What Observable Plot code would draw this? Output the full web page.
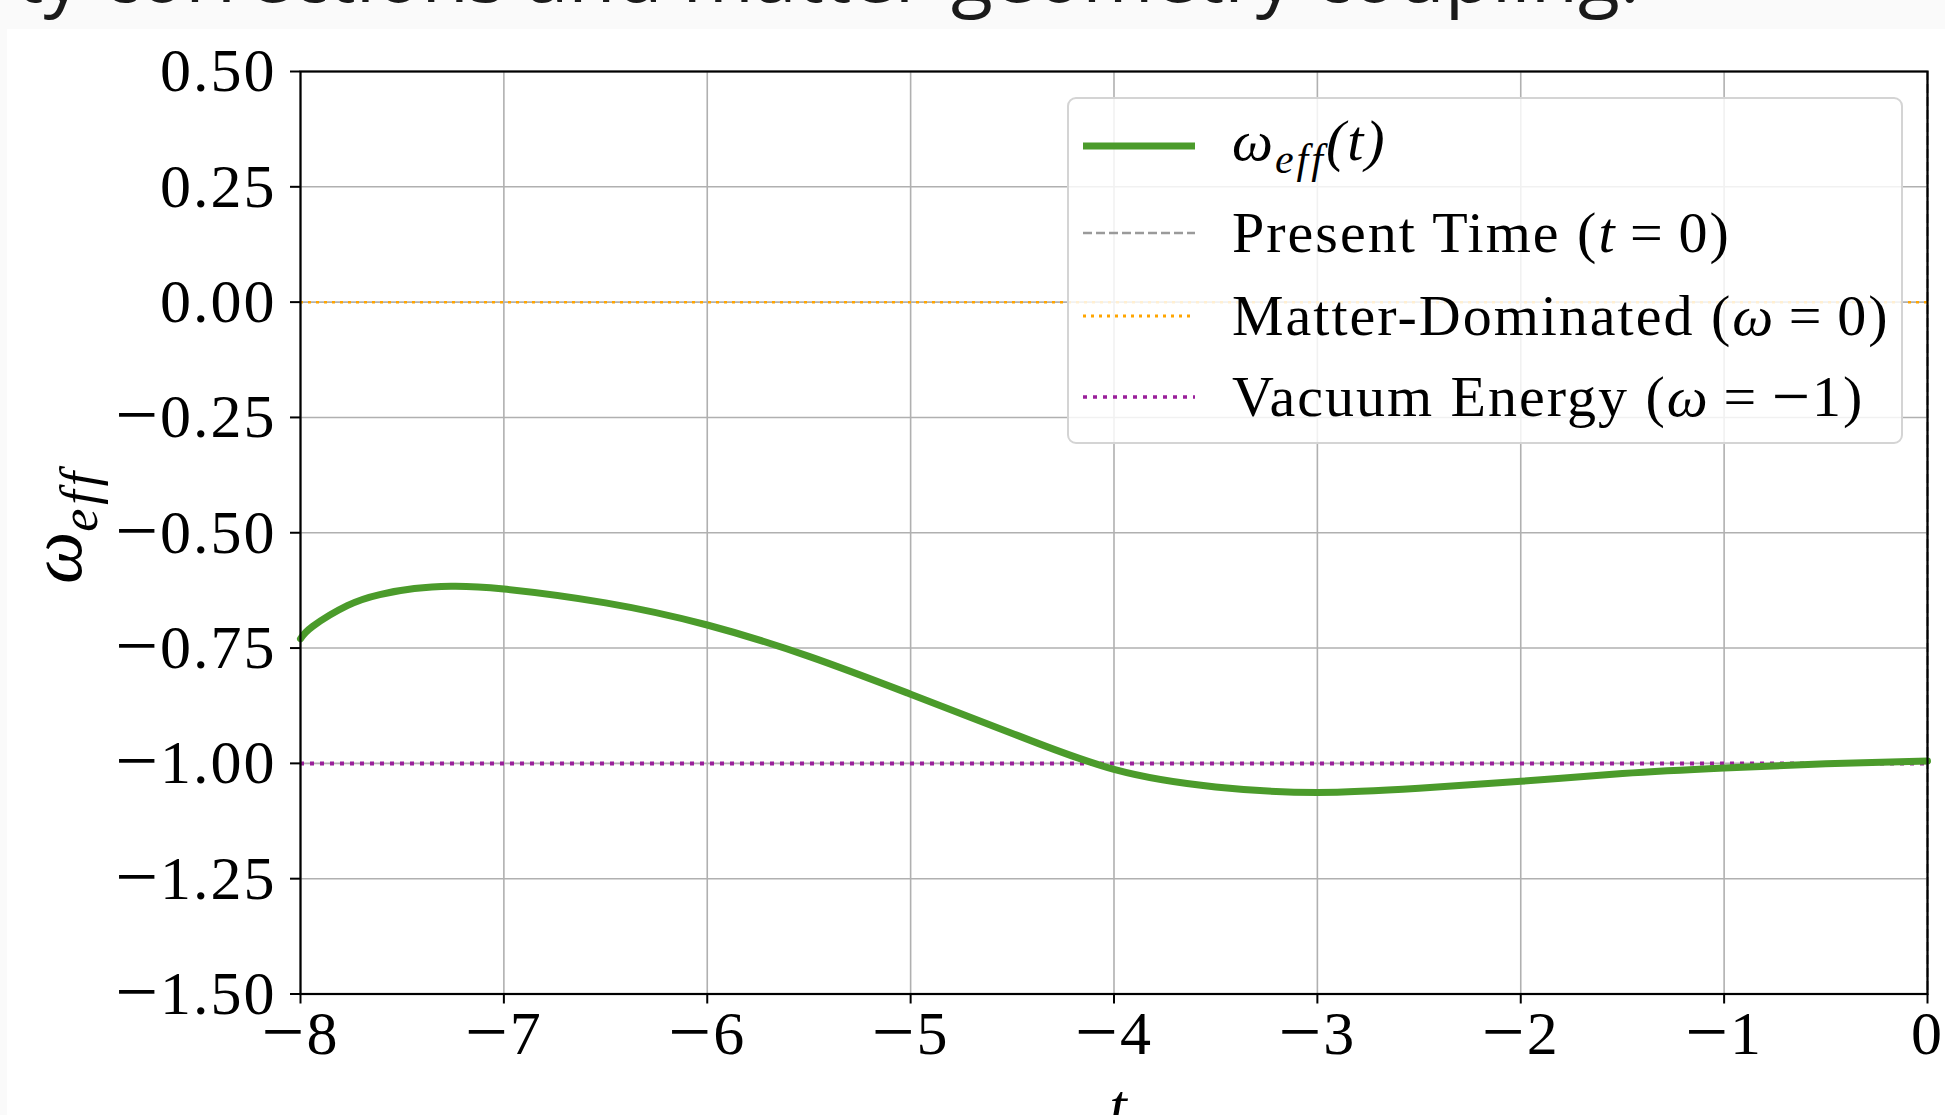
<!DOCTYPE html>
<html>
<head>
<meta charset="utf-8">
<script src="https://cdn.jsdelivr.net/npm/d3@7"></script>
<script src="https://cdn.jsdelivr.net/npm/@observablehq/plot@0.6"></script>
<style>
  html, body { margin: 0; padding: 0; width: 1945px; height: 1115px; overflow: hidden; background: #fafafa; position: relative; }
  #title { position: absolute; right: 305px; top: -66px; white-space: nowrap; font-family: "Open Sans", sans-serif; font-size: 77px; line-height: 1; color: #1a1a1a; }
  #fig { position: absolute; left: 7px; top: 29px; width: 2000px; height: 1090px; background: white; }
  #chart { position: absolute; left: 0; top: 0; }
  .serif { font-family: "Liberation Serif", serif; color: black; font-variant-ligatures: none; }
  .mm { font-style: normal; font-size: 68px; position: relative; top: 3px; line-height: 0; }
  #ylab { position: absolute; left: 55px; top: 497px; transform: translate(-50%, -50%) rotate(-90deg); font-size: 74px; font-style: italic; white-space: nowrap; line-height: 1; }
  #ylab sub { font-size: 52px; vertical-align: -16px; letter-spacing: 4px; }
  #xlab { position: absolute; left: 1111px; top: 1047px; transform: translateX(-50%); font-size: 63px; font-style: italic; line-height: 1; }
  #legend { position: absolute; left: 1067px; top: 97px; width: 836px; height: 347px; box-sizing: border-box; border: 2px solid #d4d4d4; border-radius: 9px; background: rgba(255,255,255,0.82); padding-top: 2px; }
  .row { display: flex; align-items: center; height: 81px; }
  .row:first-child { height: 90px; }
  .row:nth-child(2) { height: 84px; }
  .row svg { margin-left: 14px; width: 112px; height: 20px; flex: none; }
  .row span.lab { margin-left: 37px; font-size: 58px; letter-spacing: 2px; white-space: nowrap; line-height: 1; }
  .row span sub { font-size: 42px; vertical-align: -13px; letter-spacing: 3px; }
</style>
</head>
<body>
<div id="title">ty corrections and matter-geometry coupling.</div>
<div id="fig">
  <div id="chart"></div>
  <div id="ylab" class="serif">ω<sub>eff</sub></div>
  <div id="xlab" class="serif">t</div>
</div>
<div id="legend" class="serif"></div>
<script>
// ---- data ----
const tValues = [-8, -7.94, -7.77, -7.61, -7.44, -7.26, -7, -6.5, -6, -5.5, -5, -4.5, -4, -3.5, -3, -2.5, -2, -1.5, -1, -0.5, 0];
const wValues = [-0.73, -0.703, -0.658, -0.634, -0.621, -0.616, -0.622, -0.652, -0.700, -0.768, -0.850, -0.935, -1.013, -1.051, -1.063, -1.054, -1.039, -1.022, -1.010, -1.001, -0.995];
const presentTime = [0];
const matterLevel = [0];
const vacuumLevel = [-1];
const xTicks = [-8, -7, -6, -5, -4, -3, -2, -1, 0];
const yTicks = [0.5, 0.25, 0, -0.25, -0.5, -0.75, -1, -1.25, -1.5];
const legendLabels = [
  '<i>ω<sub>eff</sub>(t)</i>',
  'Present Time (<i>t</i>\u2009=\u20090)',
  'Matter-Dominated (<i>ω</i>\u2009=\u20090)',
  'Vacuum Energy (<i>ω</i>\u2009=\u2009<span class="mm">\u2212</span>1)'
];

// ---- styles ----
const GREEN = "#4b9b2b";
const ORANGE = "#ffa500";
const PURPLE = "#9a1f9a";
const GRAYD = "#9a9a9a";

const data = tValues.map((t, i) => ({t, w: wValues[i]}));
const minus = s => s.replace("-", "\u2212");

const chart = Plot.plot({
  width: 1990,
  height: 1086,
  marginLeft: 293,
  marginTop: 42,
  marginRight: 70,
  marginBottom: 121.5,
  style: {fontFamily: "'Liberation Serif', serif", fontSize: "62px", color: "black", background: "white", overflow: "visible", letterSpacing: "2px"},
  x: {domain: [-8, 0]},
  y: {domain: [-1.5, 0.5]},
  marks: [
    Plot.gridX(xTicks, {stroke: "#b0b0b0", strokeOpacity: 1, strokeWidth: 1.6}),
    Plot.gridY(yTicks, {stroke: "#b0b0b0", strokeOpacity: 1, strokeWidth: 1.6}),
    Plot.ruleY(matterLevel, {stroke: ORANGE, strokeWidth: 2.5, strokeDasharray: "3,5"}),
    Plot.ruleY(vacuumLevel, {stroke: PURPLE, strokeWidth: 4, strokeDasharray: "4,6"}),
    Plot.ruleX(presentTime, {stroke: GRAYD, strokeWidth: 2.5, strokeDasharray: "9,4"}),
    Plot.line(data, {x: "t", y: "w", stroke: GREEN, strokeWidth: 7, curve: "natural"}),
    Plot.frame({stroke: "black", strokeWidth: 2.2}),
    Plot.axisX(xTicks, {tickSize: 10, tickPadding: 6, strokeWidth: 2, tickFormat: d => minus(String(d)), label: null}),
    Plot.axisY(yTicks, {tickSize: 10, tickPadding: 14, strokeWidth: 2, tickFormat: d => minus(d.toFixed(2)), label: null})
  ]
});
document.getElementById("chart").appendChild(chart);

// longer, math-style minus sign in tick labels
d3.select(chart).selectAll("text").each(function() {
  const s = this.textContent;
  if (s.startsWith("\u2212")) {
    const sel = d3.select(this);
    sel.text(null);
    sel.append("tspan").attr("font-size", 76).attr("dy", 3).text("\u2212");
    sel.append("tspan").attr("dy", -3).text(s.slice(1));
  }
});

// ---- legend ----
const handles = [
  {stroke: GREEN, width: 7, dash: null},
  {stroke: GRAYD, width: 2.5, dash: "9,4"},
  {stroke: ORANGE, width: 3, dash: "3,5"},
  {stroke: PURPLE, width: 3.5, dash: "4,6"}
];
const legend = document.getElementById("legend");
legendLabels.forEach((lab, i) => {
  const h = handles[i];
  const row = document.createElement("div");
  row.className = "row";
  row.innerHTML = `<svg viewBox="0 0 112 20"><line x1="0" x2="112" y1="10" y2="10" stroke="${h.stroke}" stroke-width="${h.width}" ${h.dash ? `stroke-dasharray="${h.dash}"` : ""}/></svg><span class="lab">${lab}</span>`;
  legend.appendChild(row);
});
</script>
</body>
</html>
